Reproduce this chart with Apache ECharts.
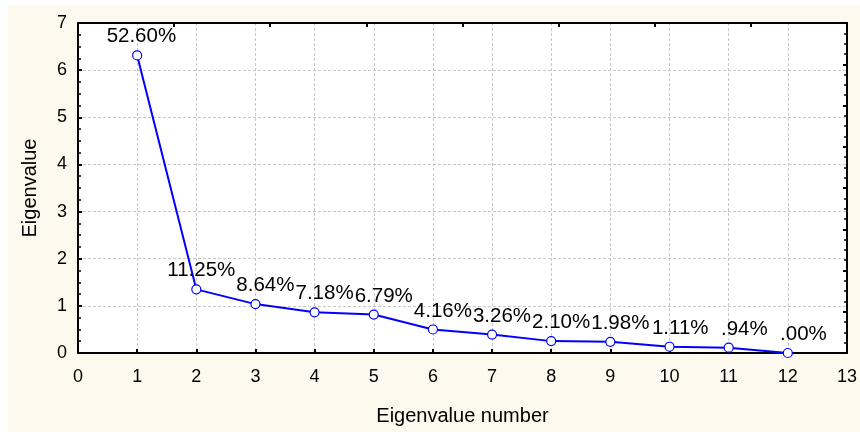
<!DOCTYPE html>
<html>
<head>
<meta charset="utf-8">
<script src="https://cdn.jsdelivr.net/npm/echarts@6/dist/echarts.min.js"></script>
<style>
html,body{margin:0;padding:0;background:#ffffff;}
#chart{width:860px;height:432px;}
</style>
</head>
<body>
<div id="chart"></div>
<script>
var eigenNumbers = [1, 2, 3, 4, 5, 6, 7, 8, 9, 10, 11, 12];
var eigenValues = [6.312, 1.350, 1.037, 0.862, 0.815, 0.499, 0.391, 0.252, 0.238, 0.133, 0.113, 0.000];
var percentLabels = ['52.60%', '11.25%', '8.64%', '7.18%', '6.79%', '4.16%', '3.26%', '2.10%', '1.98%', '1.11%', '.94%', '.00%'];
var xTitle = 'Eigenvalue number';
var yTitle = 'Eigenvalue';

var chart = echarts.init(document.getElementById('chart'), null, {renderer: 'canvas'});
var font = 'Liberation Sans, Arial, sans-serif';
var labelFontSize = 20.5;
var rightEdge = 39; // label right edge sits this far right of its point

var data = eigenNumbers.map(function (n, i) { return [n, eigenValues[i]]; });

chart.setOption({
  backgroundColor: '#ffffff',
  animation: false,
  graphic: [{
    type: 'rect', z: -10, silent: true,
    shape: {x: 8, y: 5, width: 852, height: 427},
    style: {fill: '#FDF9EE'}
  }],
  grid: {left: 78, right: 9, top: 23, bottom: 79, show: true, backgroundColor: '#ffffff', borderWidth: 0},
  xAxis: [{
    type: 'value', min: 0, max: 13, interval: 1, position: 'bottom',
    name: xTitle, nameLocation: 'middle', nameGap: 53,
    nameTextStyle: {fontFamily: font, fontSize: 20, color: '#000'},
    axisLine: {show: true, onZero: false, lineStyle: {color: '#000', width: 2}},
    axisTick: {show: true, inside: true, length: 4, lineStyle: {color: '#000', width: 2}},
    axisLabel: {fontFamily: font, fontSize: 18, color: '#000', margin: 15},
    splitLine: {show: true, lineStyle: {color: '#c8c8c8', type: [3, 2], width: 1}}
  }, {
    type: 'value', min: 0, max: 8, interval: 1, position: 'top',
    axisLine: {show: true, onZero: false, lineStyle: {color: '#000', width: 2}},
    axisTick: {show: true, inside: true, length: 4, lineStyle: {color: '#000', width: 2}},
    axisLabel: {show: false},
    splitLine: {show: false}
  }],
  yAxis: [{
    type: 'value', min: 0, max: 7, interval: 1, position: 'left',
    name: yTitle, nameLocation: 'middle', nameGap: 38, nameRotate: 90,
    nameTextStyle: {fontFamily: font, fontSize: 20, color: '#000'},
    axisLine: {show: true, onZero: false, lineStyle: {color: '#000', width: 2}},
    axisTick: {show: true, inside: true, length: 4, lineStyle: {color: '#000', width: 2}},
    minorTick: {show: true, splitNumber: 4, length: 3, lineStyle: {color: '#000', width: 1.5}},
    axisLabel: {fontFamily: font, fontSize: 18, color: '#000', margin: 11},
    splitLine: {show: true, lineStyle: {color: '#c8c8c8', type: [3, 2], width: 1}}
  }, {
    type: 'value', min: 0, max: 8, interval: 1, position: 'right',
    axisLine: {show: true, onZero: false, lineStyle: {color: '#000', width: 2}},
    axisTick: {show: true, inside: true, length: 4, lineStyle: {color: '#000', width: 2}},
    minorTick: {show: true, splitNumber: 4, length: 3, lineStyle: {color: '#000', width: 1.5}},
    axisLabel: {show: false},
    splitLine: {show: false}
  }],
  series: [{
    type: 'line',
    xAxisIndex: 0, yAxisIndex: 0,
    data: data,
    symbol: 'circle', symbolSize: 9,
    showAllSymbol: true,
    clip: false,
    lineStyle: {color: '#0000FF', width: 2},
    itemStyle: {color: '#ffffff', borderColor: '#0000FF', borderWidth: 1.2},
    label: {
      show: true, position: 'top', distance: 3,
      fontFamily: font, fontSize: labelFontSize, color: '#000',
      formatter: function (p) { return percentLabels[p.dataIndex]; }
    },
    labelLayout: function (params) {
      return {dx: rightEdge - params.labelRect.width / 2, hideOverlap: false};
    }
  }]
});
</script>
</body>
</html>
